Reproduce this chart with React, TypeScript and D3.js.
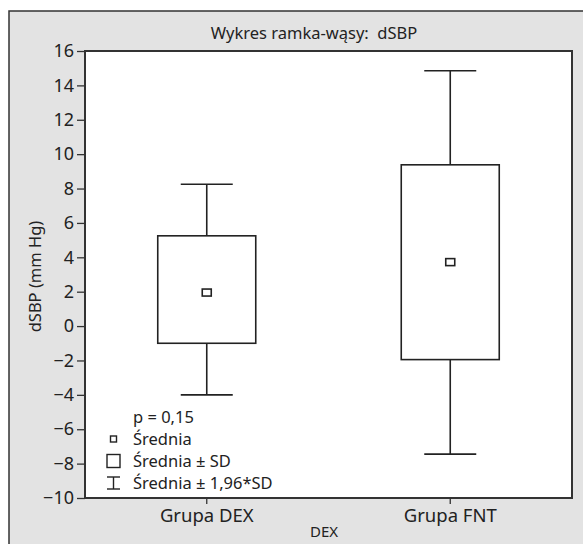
import React, { useEffect, useRef } from 'react';
import * as d3 from 'd3';

const groups = ['Grupa DEX', 'Grupa FNT'];
const means = [1.95, 3.72];
const sdLow = [-1.0, -1.95];
const sdHigh = [5.25, 9.38];
const ciLow = [-4.0, -7.45];
const ciHigh = [8.25, 14.85];
const yTicks = [-10, -8, -6, -4, -2, 0, 2, 4, 6, 8, 10, 12, 14, 16];
const legendItems = ['p = 0,15', 'Średnia', 'Średnia ± SD', 'Średnia ± 1,96*SD'];

const FONT = '"Noto Sans", "Open Sans", sans-serif';

function App() {
  const ref = useRef<SVGSVGElement>(null);

  useEffect(() => {
    const svg = d3.select(ref.current);
    svg.selectAll('*').remove();

    const W = 583;
    const H = 544;
    const plot = { left: 85, top: 51, right: 572, bottom: 498 };

    // grey frame
    svg.append('rect')
      .attr('x', 9).attr('y', 11)
      .attr('width', W + 10).attr('height', H + 10)
      .attr('fill', '#e3e3e3')
      .attr('stroke', '#333').attr('stroke-width', 1.5);

    const x = d3.scaleBand().domain(groups).range([plot.left, plot.right]);
    const y = d3.scaleLinear().domain([-10, 16]).range([plot.bottom, plot.top]);

    svg.append('rect')
      .attr('x', plot.left).attr('y', plot.top)
      .attr('width', plot.right - plot.left).attr('height', plot.bottom - plot.top)
      .attr('fill', '#fff')
      .attr('stroke', '#333').attr('stroke-width', 2);

    // y axis
    const yAxis = svg.append('g')
      .attr('transform', `translate(${plot.left},0)`)
      .call(d3.axisLeft(y).tickValues(yTicks).tickSize(8).tickPadding(3).tickFormat(d3.format('d')));
    yAxis.select('.domain').remove();
    yAxis.selectAll('line').attr('stroke', '#333').attr('stroke-width', 1.3);
    yAxis.selectAll('text')
      .attr('font-family', FONT).attr('font-size', 18).attr('fill', '#222');

    // x axis
    const xAxis = svg.append('g')
      .attr('transform', `translate(0,${plot.bottom})`)
      .call(d3.axisBottom(x).tickSize(6).tickPadding(5));
    xAxis.select('.domain').remove();
    xAxis.selectAll('line').attr('stroke', '#333').attr('stroke-width', 1.3);
    xAxis.selectAll('text')
      .attr('font-family', FONT).attr('font-size', 18.5).attr('fill', '#222');

    const boxW = 98;
    const capW = 52;
    const g = svg.append('g').attr('stroke', '#222').attr('fill', 'none').attr('stroke-width', 1.6);

    groups.forEach((grp, i) => {
      const cx = x(grp)! + x.bandwidth() / 2;
      // whiskers
      g.append('line').attr('x1', cx).attr('x2', cx).attr('y1', y(ciHigh[i])).attr('y2', y(sdHigh[i]));
      g.append('line').attr('x1', cx).attr('x2', cx).attr('y1', y(sdLow[i])).attr('y2', y(ciLow[i]));
      g.append('line').attr('x1', cx - capW / 2).attr('x2', cx + capW / 2).attr('y1', y(ciHigh[i])).attr('y2', y(ciHigh[i]));
      g.append('line').attr('x1', cx - capW / 2).attr('x2', cx + capW / 2).attr('y1', y(ciLow[i])).attr('y2', y(ciLow[i]));
      // box
      g.append('rect')
        .attr('x', cx - boxW / 2).attr('y', y(sdHigh[i]))
        .attr('width', boxW).attr('height', y(sdLow[i]) - y(sdHigh[i]));
      // mean marker
      g.append('rect')
        .attr('x', cx - 4.5).attr('y', y(means[i]) - 3.5)
        .attr('width', 9).attr('height', 7);
    });

    // legend
    const lg = svg.append('g').attr('font-family', FONT).attr('font-size', 16.5).attr('fill', '#222');
    const ly = [417, 439, 461, 483];
    legendItems.forEach((t, i) => {
      lg.append('text').attr('x', 133).attr('y', ly[i]).attr('dy', '0.35em').text(t);
    });
    const ls = svg.append('g').attr('stroke', '#222').attr('fill', 'none').attr('stroke-width', 1.4);
    ls.append('rect').attr('x', 110.5).attr('y', ly[1] - 3).attr('width', 6).attr('height', 6);
    ls.append('rect').attr('x', 107).attr('y', ly[2] - 6.5).attr('width', 13).attr('height', 13);
    ls.append('line').attr('x1', 113.5).attr('x2', 113.5).attr('y1', ly[3] - 6).attr('y2', ly[3] + 6);
    ls.append('line').attr('x1', 107).attr('x2', 120).attr('y1', ly[3] - 6).attr('y2', ly[3] - 6);
    ls.append('line').attr('x1', 107).attr('x2', 120).attr('y1', ly[3] + 6).attr('y2', ly[3] + 6);

    // title and axis labels
    svg.append('text')
      .attr('x', 314).attr('y', 33).attr('dy', '0.35em')
      .attr('text-anchor', 'middle')
      .attr('font-family', FONT).attr('font-size', 16.5).attr('fill', '#222')
      .attr('xml:space', 'preserve')
      .text('Wykres ramka-wąsy:  dSBP');

    svg.append('text')
      .attr('transform', `translate(35,${(plot.top + plot.bottom) / 2 + 2}) rotate(-90)`)
      .attr('dy', '0.35em')
      .attr('text-anchor', 'middle')
      .attr('font-family', FONT).attr('font-size', 16.5).attr('fill', '#222')
      .text('dSBP (mm Hg)');

    svg.append('text')
      .attr('x', 324).attr('y', 532).attr('dy', '0.35em')
      .attr('text-anchor', 'middle')
      .attr('font-family', FONT).attr('font-size', 15).attr('fill', '#222')
      .text('DEX');
  }, []);

  return (
    <svg ref={ref} width={583} height={544}
      style={{ position: 'absolute', left: 0, top: 0, background: '#fff' }} />
  );
}

export default App;
